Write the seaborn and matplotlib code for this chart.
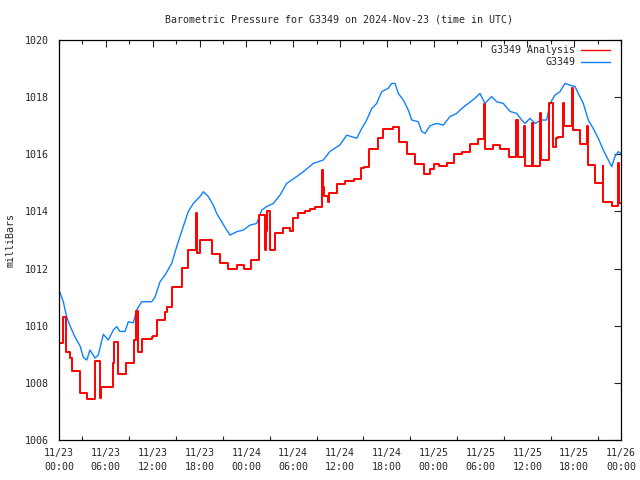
import numpy as np
import pandas as pd
import matplotlib
matplotlib.use("Agg")
import matplotlib.pyplot as plt
import seaborn as sns
from matplotlib.ticker import MultipleLocator

title = "Barometric Pressure for G3349 on 2024-Nov-23 (time in UTC)"
ylabel = "milliBars"
tick_labels = ["11/23\n00:00", "11/23\n06:00", "11/23\n12:00", "11/23\n18:00",
               "11/24\n00:00", "11/24\n06:00", "11/24\n12:00", "11/24\n18:00",
               "11/25\n00:00", "11/25\n06:00", "11/25\n12:00", "11/25\n18:00",
               "11/26\n00:00"]
tick_hours = [0, 6, 12, 18, 24, 30, 36, 42, 48, 54, 60, 66, 72]

# observed station series (hours since 11/23 00:00 UTC, mb)
obs_hours = [0.0, 0.55, 0.99, 1.41, 2.05, 2.69, 3.11, 3.55, 3.97, 4.61, 5.03, 5.68, 6.32,
             6.96, 7.39, 7.81, 8.46, 8.88, 9.52, 9.95, 10.6, 11.88, 12.3, 12.94, 13.58,
             14.44, 15.08, 15.92, 16.57, 17.21, 18.06, 18.49, 19.13, 19.77, 20.2, 20.84,
             21.48, 21.91, 22.77, 23.61, 24.47, 25.33, 25.97, 26.61, 27.45, 28.31, 29.17,
             30.45, 31.3, 32.58, 33.86, 34.72, 36.0, 36.86, 38.14, 38.78, 39.42, 40.06,
             40.7, 41.34, 42.19, 42.62, 43.05, 43.47, 44.11, 44.75, 45.19, 46.03, 46.47,
             46.89, 47.53, 48.39, 49.23, 50.09, 50.95, 51.59, 52.44, 53.29, 53.93, 54.57,
             55.43, 56.07, 56.92, 57.78, 58.64, 59.28, 59.7, 60.34, 60.98, 61.84, 62.48,
             62.9, 63.54, 64.18, 64.82, 65.46, 66.1, 66.53, 67.17, 67.81, 68.45, 69.09,
             69.73, 70.37, 70.81, 71.23, 71.65, 72.0]
obs_mb = [1011.25, 1010.84, 1010.3, 1010.0, 1009.6, 1009.3, 1008.9, 1008.8, 1009.15,
          1008.87, 1008.97, 1009.7, 1009.5, 1009.85, 1009.97, 1009.8, 1009.8, 1010.14,
          1010.1, 1010.55, 1010.84, 1010.84, 1011.0, 1011.54, 1011.77, 1012.18, 1012.77,
          1013.47, 1014.0, 1014.28, 1014.52, 1014.69, 1014.52, 1014.22, 1013.93, 1013.64,
          1013.35, 1013.17, 1013.29, 1013.35, 1013.52, 1013.58, 1014.05, 1014.17, 1014.28,
          1014.57, 1014.98, 1015.22, 1015.39, 1015.68, 1015.8, 1016.1, 1016.33, 1016.67,
          1016.56, 1016.9, 1017.2, 1017.6, 1017.78, 1018.19, 1018.31, 1018.48, 1018.48,
          1018.13, 1017.9, 1017.55, 1017.2, 1017.14, 1016.8, 1016.73, 1017.0, 1017.08,
          1017.02, 1017.32, 1017.43, 1017.6, 1017.78, 1017.96, 1018.13, 1017.78, 1018.02,
          1017.84, 1017.78, 1017.5, 1017.43, 1017.2, 1017.08, 1017.26, 1017.08, 1017.2,
          1017.2, 1017.78, 1018.07, 1018.19, 1018.48, 1018.42, 1018.37, 1018.13, 1017.78,
          1017.2, 1016.9, 1016.56, 1016.15, 1015.8, 1015.57, 1015.92, 1016.09, 1016.03]

# analysis series (step starts)
ana_hours = [0.0, 0.55, 0.86, 1.41, 1.63, 2.69, 3.63, 4.61, 5.29, 5.38, 6.92, 7.08, 7.52,
             8.58, 9.65, 9.86, 10.16, 10.67, 11.91, 12.08, 12.52, 13.58, 13.87, 14.51,
             15.72, 16.56, 17.55, 17.72, 18.06, 19.56, 20.63, 21.69, 22.84, 23.7, 24.56,
             25.62, 26.39, 26.52, 26.69, 27.03, 27.67, 28.74, 29.59, 30.0, 30.66, 31.52,
             32.16, 32.8, 33.73, 33.86, 33.99, 34.5, 34.59, 35.58, 36.64, 37.79, 38.65,
             39.11, 39.71, 40.83, 41.55, 42.83, 43.6, 44.62, 45.61, 46.76, 47.53, 48.04,
             48.72, 49.67, 50.64, 51.59, 52.65, 53.64, 54.45, 54.61, 55.64, 56.5, 57.65,
             58.55, 58.76, 59.61, 59.76, 60.6, 60.72, 61.62, 61.75, 62.78, 63.29, 63.67,
             63.97, 64.57, 64.76, 65.68, 65.81, 66.75, 67.6, 67.73, 68.67, 69.66, 69.73,
             70.81, 71.57, 71.7, 72.0]
ana_mb = [1009.38, 1010.3, 1009.09, 1008.86, 1008.42, 1007.64, 1007.44, 1008.78, 1007.48,
          1007.87, 1008.7, 1009.44, 1008.3, 1008.68, 1009.5, 1010.5, 1009.09, 1009.52,
          1009.6, 1009.65, 1010.2, 1010.49, 1010.64, 1011.34, 1012.01, 1012.65, 1013.93,
          1012.53, 1013.0, 1012.5, 1012.2, 1012.0, 1012.12, 1012.0, 1012.3, 1013.87,
          1012.65, 1013.3, 1014.0, 1012.65, 1013.23, 1013.41, 1013.3, 1013.76, 1013.93,
          1014.01, 1014.07, 1014.17, 1015.45, 1014.87, 1014.55, 1014.34, 1014.63, 1014.96,
          1015.06, 1015.12, 1015.51, 1015.57, 1016.17, 1016.56, 1016.87, 1016.97, 1016.44,
          1016.0, 1015.66, 1015.31, 1015.5, 1015.65, 1015.59, 1015.71, 1016.0, 1016.09,
          1016.36, 1016.53, 1017.75, 1016.2, 1016.33, 1016.2, 1015.92, 1017.2, 1015.9,
          1017.0, 1015.59, 1017.08, 1015.59, 1017.43, 1015.8, 1017.78, 1016.27, 1016.56,
          1016.62, 1017.78, 1016.99, 1018.31, 1016.85, 1016.36, 1017.0, 1015.62, 1015.0,
          1015.6, 1014.32, 1014.19, 1015.68, 1014.3, 1014.3]

obs = pd.DataFrame({"hour": obs_hours, "mb": obs_mb})
ana = pd.DataFrame({"hour": ana_hours, "mb": ana_mb})

sns.set_style("white")
plt.rcParams["font.family"] = ["DejaVu Sans Mono"]
FS = 7.2

fig = plt.figure(figsize=(6.4, 4.8), dpi=100)
ax = fig.add_axes([59/640, 40/480, 562/640, 400/480])

sns.lineplot(data=obs, x="hour", y="mb", ax=ax, color="#1080ff", lw=1.0,
             estimator=None, sort=False)
sns.lineplot(data=ana, x="hour", y="mb", ax=ax, color="#ff0000", lw=1.4,
             estimator=None, sort=False, drawstyle="steps-post")

ax.set_xlim(0, 72)
ax.set_ylim(1006, 1020)
ax.set_xticks(tick_hours)
ax.set_xticklabels(tick_labels, linespacing=1.45)
ax.xaxis.set_minor_locator(MultipleLocator(3))
ax.set_yticks(np.arange(1006, 1021, 2))
ax.set_xlabel("")
ax.set_ylabel("")
ax.tick_params(axis="both", which="major", direction="in", length=5, width=0.8,
               top=True, right=True, labelsize=FS)
ax.tick_params(axis="y", which="major", pad=7)
ax.tick_params(axis="x", which="major", pad=6)
ax.tick_params(axis="x", which="minor", direction="in", length=3, width=0.8,
               top=True, bottom=True)
for s in ax.spines.values():
    s.set_linewidth(0.9)
    s.set_color("black")

fig.text(339/640, 1 - 20/480, title, ha="center", va="center", fontsize=FS)
fig.text(11/640, 1 - 240/480, ylabel, rotation=90, ha="center", va="center", fontsize=FS)

# legend
lx0, lx1 = 581/640, 610/640
for ypx, lab, col in [(50, "G3349 Analysis", "#ff0000"), (62, "G3349", "#1080ff")]:
    yy = 1 - ypx/480
    fig.text(575/640, yy, lab, ha="right", va="center", fontsize=FS)
    fig.add_artist(plt.Line2D([lx0, lx1], [yy, yy], color=col, lw=1.0,
                              transform=fig.transFigure))

fig.savefig("out.png", dpi=100)
